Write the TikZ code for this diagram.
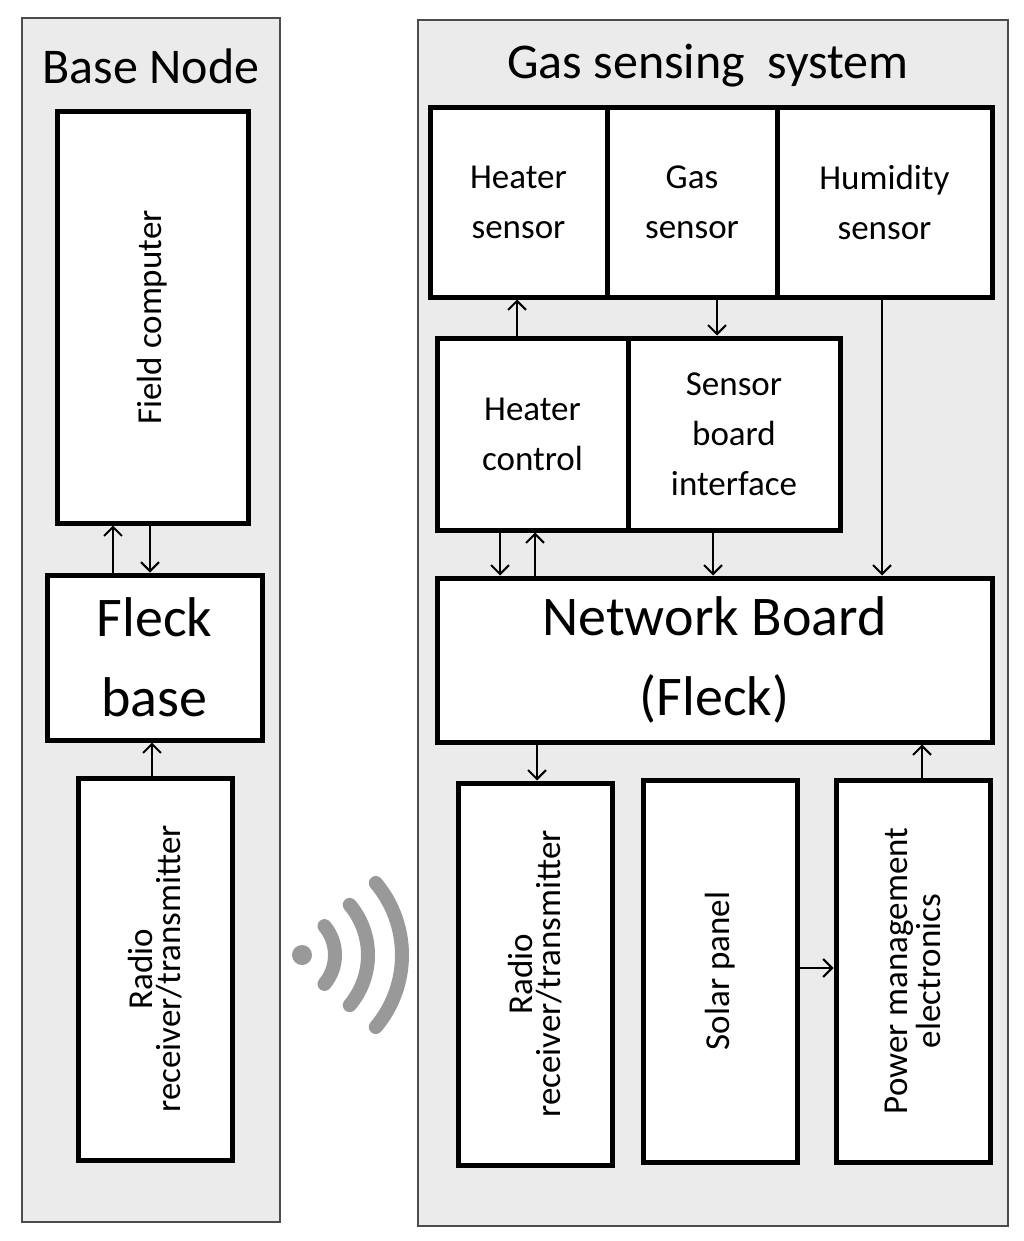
\documentclass[tikz,border=0pt]{standalone}
\usepackage{fontspec}
\setmainfont{Carlito}
\usetikzlibrary{calc,arrows.meta}
\tikzset{
  panel/.style={draw=black!70, fill=black!8, line width=1.2pt},
  blk/.style={draw, fill=white, line width=5pt, inner sep=0pt, align=center, font=\fontsize{35}{50}\selectfont},
  lnk/.style={-{Straight Barb[length=9pt,width=18pt,line width=2pt]}, line width=2pt},
  wave/.style={line width=14pt, draw=black!40, line cap=round}
}
\begin{document}
\begin{tikzpicture}[x=1pt,y=-1pt]
\useasboundingbox (0,0) rectangle (1024,1241);
% panels
\draw[panel] (22,18) rectangle (280,1222);
\draw[panel] (418,20) rectangle (1008,1226);
\node[font=\fontsize{50}{55}\selectfont] (tbase) at (151,66) {Base Node};
\node[font=\fontsize{50}{55}\selectfont] (tgas) at (708,66) {Gas sensing\ \ system};

% base node blocks
\node[blk, minimum width=191, minimum height=411] (fc) at (152.5,317.5) {\rotatebox{90}{Field computer}};
\node[blk, minimum width=215, minimum height=165, font=\fontsize{56}{80}\selectfont] (fb) at (154.5,657.5) {Fleck\\base};
\node[blk, minimum width=154, minimum height=382] (rl) at (155,969) {\rotatebox{90}{\shortstack{Radio\\receiver/transmitter}}};

% gas sensing blocks
\node[blk, minimum width=177, minimum height=189] (hs) at (518.5,202.5) {Heater\\sensor};
\node[blk, minimum width=170, minimum height=189] (gs) at (692,202.5) {Gas\\sensor};
\node[blk, minimum width=215, minimum height=189] (hu) at (884.5,202.5) {Humidity\\sensor};
\node[blk, minimum width=191, minimum height=192] (hc) at (532.5,434) {Heater\\control};
\node[blk, minimum width=212, minimum height=192] (sb) at (734,434) {Sensor\\board\\interface};
\node[blk, minimum width=555, minimum height=164, font=\fontsize{56}{80}\selectfont] (nb) at (714.5,660) {Network Board\\(Fleck)};
\node[blk, minimum width=154, minimum height=382] (rr) at (535,974) {\rotatebox{90}{\shortstack{Radio\\receiver/transmitter}}};
\node[blk, minimum width=154, minimum height=382] (sp) at (720,971) {\rotatebox{90}{Solar panel}};
\node[blk, minimum width=154, minimum height=382] (pm) at (913,971) {\rotatebox{90}{\shortstack{Power management\\electronics}}};

% links
\draw[lnk] (fb.north -| 113,0) -- (fc.south -| 113,0);
\draw[lnk] (fc.south -| 150,0) -- (fb.north -| 150,0);
\draw[lnk] (rl.north -| 152,0) -- (fb.south -| 152,0);
\draw[lnk] (hc.north -| 517,0) -- (hs.south -| 517,0);
\draw[lnk] (gs.south -| 717,0) -- (sb.north -| 717,0);
\draw[lnk] (hu.south -| 882,0) -- (nb.north -| 882,0);
\draw[lnk] (hc.south -| 500,0) -- (nb.north -| 500,0);
\draw[lnk] (nb.north -| 535,0) -- (hc.south -| 535,0);
\draw[lnk] (sb.south -| 713,0) -- (nb.north -| 713,0);
\draw[lnk] (nb.south -| 537,0) -- (rr.north -| 537,0);
\draw[lnk] (pm.north -| 922,0) -- (nb.south -| 922,0);
\draw[lnk] (sp.east |- 0,968) -- (pm.west |- 0,968);

% wireless symbol
\coordinate (w) at (290,955);
\fill[black!40] (w) ++(12,0) circle (10);
\foreach \r in {45,78,112}
  \draw[wave] ($(w)+(-40:\r)$) arc[start angle=-40, end angle=40, radius=\r];
\end{tikzpicture}
\end{document}
